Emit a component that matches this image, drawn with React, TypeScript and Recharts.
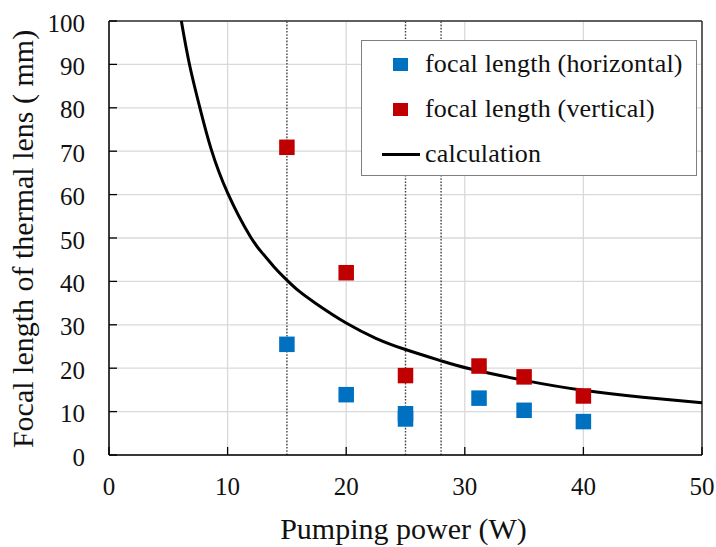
import React from "react";
import {
  ComposedChart,
  Scatter,
  Line,
  XAxis,
  YAxis,
  CartesianGrid,
  ReferenceLine,
  Legend,
} from "recharts";

// ---- data ----
const calcPower = [6.1, 6.8, 7.7, 8.6, 10, 11.9, 13, 14, 15, 16, 17.5, 20, 22.5, 25, 28, 30.5, 35, 40, 45, 50];
const calcFocal = [100, 89.8, 79.6, 70.6, 60.4, 50.4, 46.3, 43.1, 40.3, 37.8, 34.8, 30.4, 26.9, 24.3, 21.7, 19.8, 17.2, 14.9, 13.3, 12.05];

const horizPower = [15, 20, 25, 25, 31.2, 35, 40];
const horizFocal = [25.5, 13.9, 9.5, 8.3, 13.1, 10.3, 7.7];

const vertPower = [15, 20, 25, 31.2, 35, 40];
const vertFocal = [70.9, 42, 18.3, 20.5, 18, 13.6];

const xTicks = [0, 10, 20, 30, 40, 50];
const yTicks = [0, 10, 20, 30, 40, 50, 60, 70, 80, 90, 100];
const markerLines = [15, 25, 28];

const seriesNames = {
  horiz: "focal length (horizontal)",
  vert: "focal length (vertical)",
  calc: "calculation",
};
const legendOrder = [seriesNames.horiz, seriesNames.vert, seriesNames.calc];

const xTitle = "Pumping power (W)";
const yTitle = "Focal length of thermal lens ( mm)";

const BLUE = "#0070c0";
const RED = "#c00000";
const FONT = "Liberation Serif";
const TEXT = "#111";

const calcData = calcPower.map((x, i) => ({ x, y: calcFocal[i] }));
const horizData = horizPower.map((x, i) => ({ x, y: horizFocal[i] }));
const vertData = vertPower.map((x, i) => ({ x, y: vertFocal[i] }));

const makeSquare = (color: string) => (props: any) => {
  const { cx, cy } = props;
  if (cx == null || cy == null) return <g />;
  const s = 15.5;
  return <rect x={cx - s / 2} y={cy - s / 2} width={s} height={s} fill={color} />;
};

const XTick = (props: any) => {
  const { x, y, payload } = props;
  return (
    <text x={x} y={y + 18} textAnchor="middle" fontFamily={FONT} fontSize={25} fill={TEXT}>
      {payload.value}
    </text>
  );
};

const YTick = (props: any) => {
  const { x, y, payload } = props;
  return (
    <text x={x} y={y + 10.5} textAnchor="end" fontFamily={FONT} fontSize={25} fill={TEXT}>
      {payload.value}
    </text>
  );
};

const LegendContent = (props: any) => {
  const payload: any[] = props.payload || [];
  const items = legendOrder
    .map((name) => payload.find((p) => p.value === name))
    .filter(Boolean);
  return (
    <div
      style={{
        width: 334,
        height: 133,
        border: "1.5px solid #7f7f7f",
        background: "#fff",
        fontFamily: FONT,
        fontSize: 26,
        color: TEXT,
        paddingTop: 0.5,
        boxSizing: "content-box",
      }}
    >
      {items.map((it: any) => (
        <div
          key={it.value}
          style={{ display: "flex", alignItems: "center", height: 45, whiteSpace: "nowrap" }}
        >
          <div style={{ width: 63, height: 45, position: "relative", flex: "none" }}>
            {it.value === seriesNames.calc ? (
              <div
                style={{
                  position: "absolute",
                  left: 20,
                  top: 21,
                  width: 38,
                  height: 3,
                  background: "#000",
                }}
              />
            ) : (
              <div
                style={{
                  position: "absolute",
                  left: 31,
                  top: 16,
                  width: 15,
                  height: 13,
                  background: it.value === seriesNames.horiz ? BLUE : RED,
                }}
              />
            )}
          </div>
          <span style={{ fontFamily: FONT, fontSize: 26, letterSpacing: 0.2 }}>{it.value}</span>
        </div>
      ))}
    </div>
  );
};

const YTitle = (props: any) => {
  const vb = props.viewBox || {};
  const cx = 33;
  const cy = vb.y + vb.height / 2 + 1;
  return (
    <text
      x={cx}
      y={cy}
      transform={`rotate(-90 ${cx} ${cy})`}
      textAnchor="middle"
      fontFamily={FONT}
      fontSize={30}
      fill={TEXT}
    >
      {yTitle}
    </text>
  );
};

const XTitle = (props: any) => {
  const vb = props.viewBox || {};
  const cx = vb.x + vb.width / 2 - 2;
  return (
    <text x={cx} y={539} textAnchor="middle" fontFamily={FONT} fontSize={30} fill={TEXT}>
      {xTitle}
    </text>
  );
};

export default function App() {
  return (
    <div
      style={{
        position: "absolute",
        left: 0,
        top: 0,
        background: "#fff",
        fontFamily: FONT,
      }}
    >
      <ComposedChart
        width={716}
        height={547}
        margin={{ top: 21, right: 14, left: 0, bottom: 0 }}
        style={{ fontFamily: FONT }}
      >
        <CartesianGrid
          stroke="#d9d9d9"
          strokeWidth={1.3}
          horizontalValues={yTicks}
          verticalValues={xTicks}
        />
        <XAxis
          type="number"
          dataKey="x"
          domain={[0, 50]}
          ticks={xTicks}
          interval={0}
          height={92}
          tickSize={-8}
          tickMargin={30}
          axisLine={{ stroke: "#000", strokeWidth: 1.5 }}
          tickLine={{ stroke: "#000", strokeWidth: 1.3 }}
          tick={<XTick />}
          label={<XTitle />}
        />
        <YAxis
          type="number"
          dataKey="y"
          domain={[0, 100]}
          ticks={yTicks}
          interval={0}
          width={109}
          tickSize={-8}
          tickMargin={32}
          axisLine={{ stroke: "#000", strokeWidth: 1.5 }}
          tickLine={{ stroke: "#000", strokeWidth: 1.3 }}
          tick={<YTick />}
          label={<YTitle />}
        />
        <ReferenceLine y={100} stroke="#333" strokeWidth={1.5} />
        <ReferenceLine x={50} stroke="#333" strokeWidth={1.5} />
        {markerLines.map((v) => (
          <ReferenceLine key={v} x={v} stroke="#404040" strokeWidth={1.4} strokeDasharray="1.6 1.6" />
        ))}
        <Line
          data={calcData}
          dataKey="y"
          name={seriesNames.calc}
          type="natural"
          stroke="#000"
          strokeWidth={3}
          dot={false}
          activeDot={false}
          isAnimationActive={false}
        />
        <Scatter
          data={horizData}
          dataKey="y"
          name={seriesNames.horiz}
          fill={BLUE}
          shape={makeSquare(BLUE)}
          isAnimationActive={false}
        />
        <Scatter
          data={vertData}
          dataKey="y"
          name={seriesNames.vert}
          fill={RED}
          shape={makeSquare(RED)}
          isAnimationActive={false}
        />
        <Legend
          layout="horizontal"
          verticalAlign="middle"
          align="center"
          content={<LegendContent />}
          wrapperStyle={{ left: 361, top: 40, width: 337, height: 136 }}
        />
      </ComposedChart>
    </div>
  );
}
